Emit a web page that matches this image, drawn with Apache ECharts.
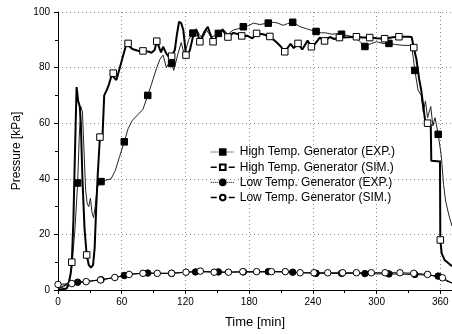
<!DOCTYPE html>
<html>
<head>
<meta charset="utf-8">
<script src="https://cdn.jsdelivr.net/npm/echarts@6/dist/echarts.min.js"></script>
<style>
html,body{margin:0;padding:0;background:#fff;}
#chart{width:452px;height:334px;}
</style>
</head>
<body>
<div id="chart"></div>
<script>
// ---- Data (time [min], pressure [kPa]) ----
const seriesNames = [
  'High Temp. Generator (EXP.)',
  'High Temp. Generator (SIM.)',
  'Low Temp. Generator (EXP.)',
  'Low Temp. Generator (SIM.)'
];
const xTicks = [0, 60, 120, 180, 240, 300, 360];
const yTicks = [0, 20, 40, 60, 80, 100];

const highExp = [
  [0,0.5],[5,1],[10,3],[13,8],[16,22],[18.5,38.5],[20,55],[21.5,66],[23,64],[24.5,50],
  [26,36],[27.5,31],[29,30],[30.5,33],[32,28],[33.5,26],[35,30],[37,37],[40.5,39],[45,39.5],
  [50,40],[54,43],[58,48],[62.4,53.3],[66,58],[70,61],[75,63],[80,65],[84.5,70],[88,74],
  [93,80],[96,83],[99,84.5],[102,80],[105,82],[107,81.5],[109,79],[113,85],[116,89],[119,84.6],
  [123,90],[127,92.4],[130,94],[133,92],[136,90.5],[140,93.5],[144,91],[148,91.5],[151,92.3],[155,94],
  [160,92],[165,93.5],[170,94],[174.5,94.7],[179,95],[184,96],[190,95.5],[198,96],[203,96.3],[207,96],
  [212,95.2],[216,95.8],[221,96.3],[228,94.7],[234,94],[238,93.5],[243,93],[248,92.5],[252,92.5],[258,92],
  [263,92.2],[267,92],[273,91.5],[279,91],[284,89.5],[289,87.6],[294,88.5],[300,89.3],[306,88.7],[311.6,88.7],
  [318,88.3],[325,88],[333,88],[336,79],[339,72],[342,70],[344,64],[346,68],[348,62],[351,66],
  [353,59],[355,62],[358,56],[361,48],[363,38],[365,32],[368,27],[371,23]
];
const highExpMarkT = [18.5,40.5,62.4,84.5,107,127,151,174.5,198,221,243,267,289,311.6,336,358];

const highSim = [
  [0,0],[8,0.5],[10,2],[12,6],[13,10],[14.5,25],[16,50],[17.5,73],[19,68],[20.5,66],
  [21.5,60],[23,40],[25,22],[27,12.6],[29,9],[31,8],[33,9],[34.5,15],[36,30],[37.5,42],
  [39,52],[39.5,55],[41,55],[42,56],[43.5,70],[46,72],[48,74],[50.5,77.3],[52,78],[55,75.5],
  [58,79.7],[61.5,84.5],[64.5,88.7],[66,88.7],[70,86.7],[76,86],[80,86],[86,85.7],[88,85.3],[91,86.3],
  [93,89.5],[97,85.5],[99,87.5],[102,85],[104,84],[107,84.1],[110,86.3],[112,92],[114,96.5],[116,96],
  [118,93.5],[120.5,84.5],[124,86],[127,91],[130.5,93.5],[133.6,89.3],[138,93],[141,94.7],[143.5,92],[146,89.3],
  [151,92],[155,93.5],[160,91],[165,92.5],[170,92],[173,91.4],[178,91.5],[183,90.5],[187,92.3],[193,92],
  [199.5,91.2],[206,89],[210,87.5],[213.5,85.7],[219,88.5],[222,87],[226,88.7],[230,86.5],[235,89.7],[238.6,87.5],
  [242,88.5],[246.5,90.8],[251,89.6],[256,91],[260,90.3],[265,90.8],[273,90.9],[281,91.1],[287,90.8],[293.5,90.8],
  [300,90.6],[307.6,90.4],[315,90.9],[321,91.1],[330,91.1],[333,91],[335,87.2],[337.5,83],[340,76],[342,72],
  [345.6,61.2],[348,60],[351,59.4],[351.5,46.5],[359.7,46.2],[360,18],[361.3,13.2],[364,10.8],[368,9.5],[371,8.5]
];
const highSimMarkT = [13,27,39.5,52,66,80,93,107,120.5,133.6,146,160,173,187,199.5,213.5,226,238.6,251,265,281,293.5,307.6,321,335,348,360];

const lowExp = [
  [0,0.5],[5,1.5],[13,2.3],[18.5,2.8],[27,3.1],[40.5,3.7],[53,4.5],[62.4,5.2],[70,5.8],[84.5,6.1],
  [95,6],[107,6],[120,6.4],[129.5,6.5],[140,6.5],[151,6.5],[160,6.4],[174.5,6.5],[187,6.4],[198,6.6],
  [210,6.5],[221,6.4],[230,6.2],[243,6],[255,6],[267,6],[278,6],[289,5.9],[300,5.8],[311.6,5.8],
  [322,5.7],[336,5.6],[348,5.3],[358,5],[362,4.2],[366,3.2],[371,2.5]
];
const lowExpMarkT = [18.5,40.5,62.4,84.5,107,129.5,151,174.5,198,221,243,267,289,311.6,336,358];

const lowSim = [
  [0,2],[13,2.3],[26.5,3.0],[40,3.6],[53.5,4.5],[67,5.6],[80,6.0],[93.5,6.0],[107,6.0],[120.5,6.4],
  [134,6.8],[147,6.4],[160.5,6.4],[174,6.6],[187,6.6],[201,6.6],[214,6.6],[228,6.2],[241,6.2],[254,6.2],
  [268,6.2],[281,6.2],[295,6.2],[308,6.2],[322,6.2],[335,6.0],[348,5.6],[362,4.4],[371,2.5]
];
const lowSimMarkT = [0,13,26.5,40,53.5,67,80,93.5,107,120.5,134,147,160.5,174,187,201,214,228,241,254,268,281,295,308,322,335,348,362];

// ---- Build ----
function build(points, markT) {
  return points.map(p => ({
    value: p,
    symbol: markT.indexOf(p[0]) >= 0 ? undefined : 'none'
  }));
}
const FONT = "'Liberation Sans', Arial, sans-serif";
const chart = echarts.init(document.getElementById('chart'), null, {renderer: 'canvas'});

function lineSeries(name, pts, markT, symbol, filled, width, color, z) {
  return {
    name: name,
    type: 'line',
    data: build(pts, markT),
    symbol: symbol,
    symbolSize: 6.5,
    showAllSymbol: true,
    smooth: false,
    z: z,
    lineStyle: {color: color, width: width},
    itemStyle: {color: filled ? '#000' : '#fff', borderColor: '#000', borderWidth: 1, opacity: 1},
    emphasis: {disabled: true},
    animation: false
  };
}

const option = {
  animation: false,
  backgroundColor: '#fff',
  textStyle: {fontFamily: FONT},
  grid: {left: 58, right: 0, top: 12, bottom: 44, containLabel: false},
  xAxis: {
    type: 'value', min: 0, max: 371, interval: 60,
    name: 'Time [min]', nameLocation: 'middle', nameGap: 26,
    nameTextStyle: {fontFamily: FONT, fontSize: 13, color: '#000'},
    axisLine: {show: true, onZero: false, lineStyle: {color: '#000', width: 1}},
    axisTick: {show: true, inside: false, length: 4, lineStyle: {color: '#000'}},
    minorTick: {show: true, splitNumber: 2, length: 3, lineStyle: {color: '#000'}},
    axisLabel: {fontFamily: FONT, fontSize: 10, color: '#000', margin: 7,
      customValues: xTicks, formatter: v => String(v)},
    splitLine: {show: true, lineStyle: {color: '#888', type: [1, 3], width: 1}}
  },
  yAxis: {
    type: 'value', min: 0, max: 100, interval: 20,
    name: 'Pressure [kPa]', nameLocation: 'middle', nameGap: 31, nameRotate: 90,
    nameTextStyle: {fontFamily: FONT, fontSize: 12, color: '#000'},
    axisLine: {show: true, onZero: false, lineStyle: {color: '#000', width: 1}},
    axisTick: {show: true, inside: false, length: 4, lineStyle: {color: '#000'}},
    minorTick: {show: true, splitNumber: 2, length: 3, lineStyle: {color: '#000'}},
    axisLabel: {fontFamily: FONT, fontSize: 10, color: '#000', margin: 8,
      customValues: yTicks, formatter: v => String(v)},
    splitLine: {show: true, lineStyle: {color: '#888', type: [1, 3], width: 1}}
  },
  legend: {
    orient: 'vertical', left: 205, top: 141,
    itemWidth: 24, itemHeight: 7, itemGap: 3.2,
    textStyle: {fontFamily: FONT, fontSize: 12, color: '#000'},
    data: [
      {name: seriesNames[0], lineStyle: {type: 'dotted', width: 1}},
      {name: seriesNames[1], lineStyle: {type: 'dashed', width: 1.5}},
      {name: seriesNames[2], lineStyle: {type: 'dotted', width: 1}},
      {name: seriesNames[3], lineStyle: {type: 'dashed', width: 1.5}}
    ]
  },
  series: [
    lineSeries(seriesNames[0], highExp, highExpMarkT, 'rect', true, 1, '#222', 3),
    lineSeries(seriesNames[1], highSim, highSimMarkT, 'rect', false, 2, '#000', 4),
    lineSeries(seriesNames[2], lowExp, lowExpMarkT, 'circle', true, 1, '#000', 5),
    lineSeries(seriesNames[3], lowSim, lowSimMarkT, 'circle', false, 1, '#000', 6)
  ]
};
chart.setOption(option);
</script>
</body>
</html>
